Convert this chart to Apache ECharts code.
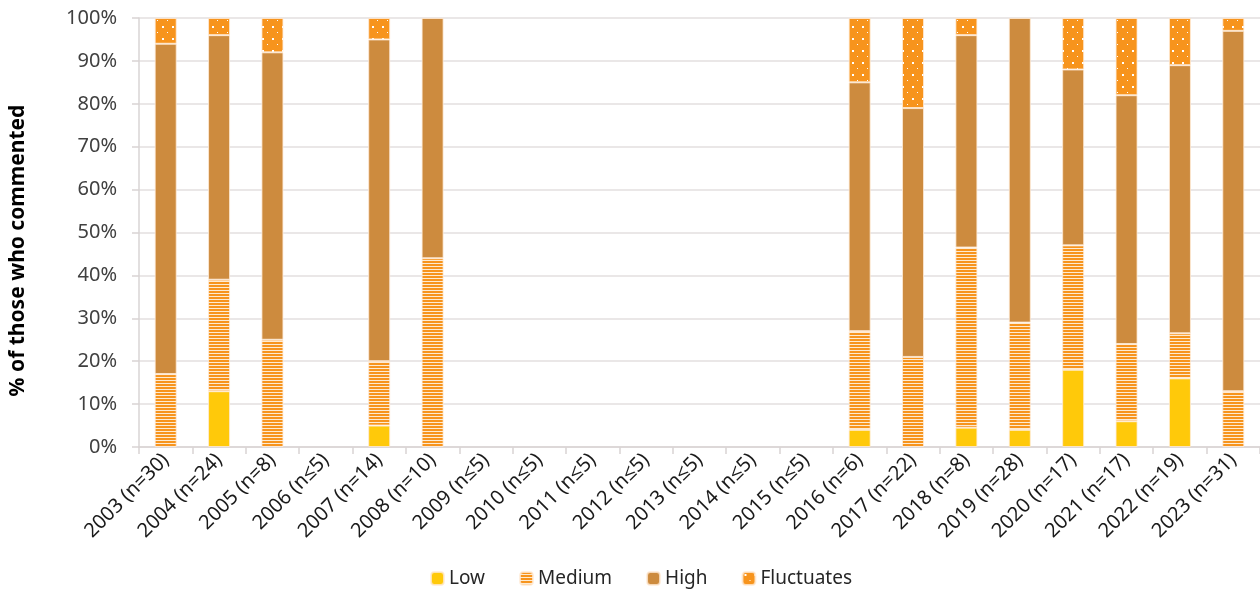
<!DOCTYPE html>
<html>
<head>
<meta charset="utf-8">
<script src="https://cdn.jsdelivr.net/npm/echarts@6/dist/echarts.min.js"></script>
<style>html,body{margin:0;padding:0;background:#fff;}#chart{width:1260px;height:591px;}</style>
</head>
<body>
<div id="chart"></div>
<script>
const categories = ['2003 (n=30)','2004 (n=24)','2005 (n=8)','2006 (n≤5)','2007 (n=14)','2008 (n=10)','2009 (n≤5)','2010 (n≤5)','2011 (n≤5)','2012 (n≤5)','2013 (n≤5)','2014 (n≤5)','2015 (n≤5)','2016 (n=6)','2017 (n=22)','2018 (n=8)','2019 (n=28)','2020 (n=17)','2021 (n=17)','2022 (n=19)','2023 (n=31)'];
const low        = [0, 13, 0, 0, 5, 0, 0,0,0,0,0,0,0, 4, 0, 4.5, 4, 18, 6, 16, 0];
const medium     = [17, 26, 25, 0, 15, 44, 0,0,0,0,0,0,0, 23, 21, 42, 25, 29, 18, 10.5, 13];
const high       = [77, 57, 67, 0, 75, 56, 0,0,0,0,0,0,0, 58, 58, 49.5, 71, 41, 58, 62.5, 84];
const fluctuates = [6, 4, 8, 0, 5, 0, 0,0,0,0,0,0,0, 15, 21, 4, 0, 12, 18, 11, 3];
const yTicks = [0,10,20,30,40,50,60,70,80,90,100];

function stripePattern(){
  const c = document.createElement('canvas'); c.width = 4; c.height = 3;
  const g = c.getContext('2d');
  g.fillStyle = '#fdebd2'; g.fillRect(0,0,4,3);
  g.fillStyle = '#f7941d'; g.fillRect(0,0,4,2);
  return {image: c, repeat: 'repeat'};
}
function dotPattern(){
  const c = document.createElement('canvas'); c.width = 10; c.height = 12;
  const g = c.getContext('2d');
  g.fillStyle = '#f7941d'; g.fillRect(0,0,10,12);
  g.fillStyle = '#ffffff'; g.fillRect(2,2,2,2); g.fillRect(7,8,1,1);
  return {image: c, repeat: 'repeat'};
}
const FONT = '"Noto Sans", "Open Sans", sans-serif';
const nz = a => a.map(v => v ? v : null);
function ser(name, data, color){
  return {name, type:'bar', stack:'s', data: nz(data), barWidth: 22,
    itemStyle:{color, borderColor:'rgba(255,235,215,0.8)', borderWidth:1},
    emphasis:{disabled:true}};
}
const chart = echarts.init(document.getElementById('chart'), null, {renderer:'canvas'});
chart.setOption({
  animation:false,
  grid:{left:137, right:0, top:18, bottom:144, containLabel:false},
  legend:{bottom:-2, left:425, itemWidth:13, itemHeight:13, itemGap:34,
    textStyle:{fontFamily:FONT, fontSize:19, color:'#262626'},
    data:['Low','Medium','High','Fluctuates']},
  xAxis:{type:'category', data:categories,
    axisLine:{lineStyle:{color:'#d9d4d4', width:1.5}},
    axisTick:{show:true, length:7, lineStyle:{color:'#d9d4d4', width:1.5}},
    axisLabel:{rotate:45, fontFamily:FONT, fontSize:20, color:'#1a1a1a', margin:10, interval:0}},
  yAxis:{type:'value', min:0, max:100, interval:10,
    name:'% of those who commented', nameLocation:'middle', nameGap:110,
    nameTextStyle:{fontFamily:FONT, fontSize:21, fontWeight:'bold', color:'#000', padding:[0,36,0,0]},
    axisLine:{show:true, lineStyle:{color:'#d9d4d4', width:1.5}},
    axisTick:{show:true, length:7, lineStyle:{color:'#d9d4d4', width:1.5}},
    splitLine:{lineStyle:{color:'#e3dfdf', width:1.5}},
    axisLabel:{fontFamily:FONT, fontSize:20, color:'#404040', margin:22,
      formatter: v => yTicks.includes(v) ? v + '%' : ''}},
  series:[
    ser('Low', low, '#ffc90a'),
    ser('Medium', medium, stripePattern()),
    ser('High', high, '#cd8b3e'),
    ser('Fluctuates', fluctuates, dotPattern())
  ]
});
</script>
</body>
</html>
